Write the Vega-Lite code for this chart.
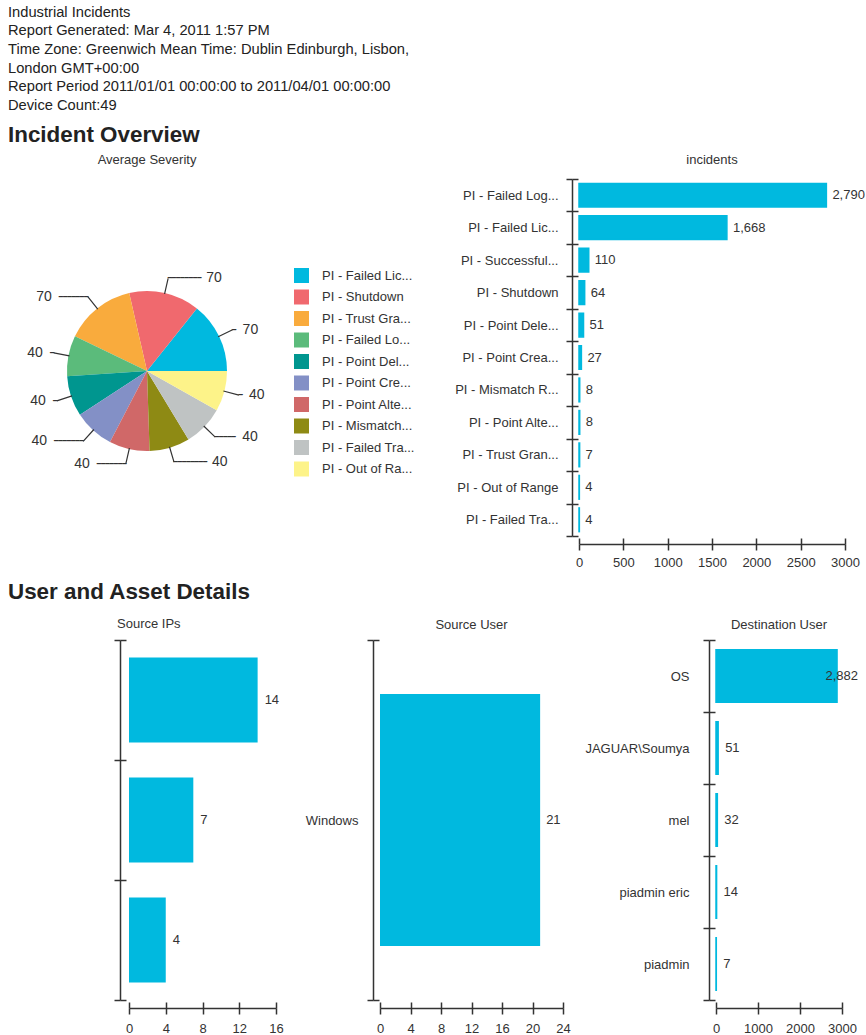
{
  "$schema": "https://vega.github.io/schema/vega-lite/v6.json",
  "padding": {"left": 8, "top": 4, "right": 0, "bottom": 0},
  "background": "white",
  "config": {
    "font": "Liberation Sans",
    "view": {"stroke": null},
    "axis": {"labelFont": "Liberation Sans", "labelFontSize": 13, "labelColor": "#333", "domainColor": "#333", "tickColor": "#333", "domainWidth": 1.5, "tickWidth": 1.5, "grid": false, "labelFlush": false, "labelOverlap": false},
    "title": {"font": "Liberation Sans", "fontSize": 13, "fontWeight": "normal", "color": "#333", "offset": 12},
    "text": {"font": "Liberation Sans", "fontSize": 13, "color": "#333"}
  },
  "title": {
    "text": ["Industrial Incidents", "Report Generated: Mar 4, 2011 1:57 PM", "Time Zone: Greenwich Mean Time:  Dublin Edinburgh, Lisbon,", "London GMT+00:00", "Report Period 2011/01/01 00:00:00 to 2011/04/01 00:00:00", "Device Count:49"],
    "anchor": "start", "frame": "group", "dx": -121,
    "fontSize": 14.7, "fontWeight": "normal", "color": "#222", "lineHeight": 18.6,
    "offset": 11
  },
  "spacing": 11,
  "vconcat": [
    {
      "title": {"text": "Incident Overview", "anchor": "start", "frame": "group", "dx": -121, "fontSize": 22.4, "fontWeight": "bold", "color": "#222", "offset": 8},
      "bounds": "flush",
      "spacing": 414,
      "hconcat": [
        {
          "width": 36, "height": 384,
          "title": {"text": "Average Severity", "offset": 12},
          "data": {"values": [
            {"type": "PI - Failed Lic...", "severity": 70, "idx": 1},
            {"type": "PI - Shutdown", "severity": 70, "idx": 2},
            {"type": "PI - Trust Gra...", "severity": 70, "idx": 3},
            {"type": "PI - Failed Lo...", "severity": 40, "idx": 4},
            {"type": "PI - Point Del...", "severity": 40, "idx": 5},
            {"type": "PI - Point Cre...", "severity": 40, "idx": 6},
            {"type": "PI - Point  Alte...", "severity": 40, "idx": 7},
            {"type": "PI - Mismatch...", "severity": 40, "idx": 8},
            {"type": "PI - Failed Tra...", "severity": 40, "idx": 9},
            {"type": "PI - Out of Ra...", "severity": 40, "idx": 10}
          ]},
          "encoding": {
            "theta": {"field": "severity", "type": "quantitative", "stack": true, "scale": {"range": [1.5708, -4.7124]}},
            "order": {"field": "idx", "type": "quantitative"},
            "detail": {"field": "type", "type": "nominal"}
          },
          "layer": [
            {
              "mark": {"type": "arc", "outerRadius": 80},
              "encoding": {
                "color": {
                  "field": "type", "type": "nominal",
                  "scale": {
                    "domain": ["PI - Failed Lic...", "PI - Shutdown", "PI - Trust Gra...", "PI - Failed Lo...", "PI - Point Del...", "PI - Point Cre...", "PI - Point  Alte...", "PI - Mismatch...", "PI - Failed Tra...", "PI - Out of Ra..."],
                    "range": ["#00b9df", "#f0696e", "#f9ab3d", "#5bbb7b", "#00968f", "#8390c6", "#d06868", "#8e8a14", "#bfc3c3", "#fdf389"]
                  },
                  "legend": {"orient": "none", "legendX": 165, "legendY": 89, "title": null, "symbolType": "square", "symbolSize": 225, "symbolStrokeWidth": 0, "labelFontSize": 13, "labelColor": "#333", "labelFont": "Liberation Sans", "rowPadding": 6.5, "labelOffset": 13, "padding": 0, "labelLimit": 200}
                }
              }
            },
            {
              "mark": {"type": "arc", "innerRadius": 79, "outerRadius": 95, "padAngle": 3, "fillOpacity": 0, "stroke": "#333", "strokeWidth": 1.2}
            },
            {
              "mark": {"type": "text", "radius": 95, "align": "left", "baseline": "middle", "dx": -0.5, "font": "DejaVu Sans", "fontSize": 7, "color": "#333"},
              "encoding": {
                "text": {"condition": [
                  {"test": "datum.type === 'PI - Failed Lic...' || datum.type === 'PI - Out of Ra...'", "value": "━"},
                  {"test": "datum.type === 'PI - Failed Tra...'", "value": "━━━━━"},
                  {"test": "datum.type === 'PI - Shutdown' || datum.type === 'PI - Mismatch...'", "value": "━━━━━━━━"}
                ], "value": ""}
              }
            },
            {
              "mark": {"type": "text", "radius": 95, "align": "right", "baseline": "middle", "dx": 0.5, "font": "DejaVu Sans", "fontSize": 7, "color": "#333"},
              "encoding": {
                "text": {"condition": [
                  {"test": "datum.type === 'PI - Failed Lo...' || datum.type === 'PI - Point Del...'", "value": "━"},
                  {"test": "datum.type === 'PI - Trust Gra...' || datum.type === 'PI - Point Cre...' || datum.type === 'PI - Point  Alte...'", "value": "━━━━━━━"}
                ], "value": ""}
              }
            },
            {
              "mark": {"type": "text", "radius": 95, "align": "left", "baseline": "middle", "dx": 10, "fontSize": 14},
              "encoding": {
                "text": {"condition": {"test": "datum.type === 'PI - Failed Lic...' || datum.type === 'PI - Out of Ra...'", "field": "severity", "type": "quantitative"}, "value": ""}
              }
            },
            {
              "mark": {"type": "text", "radius": 95, "align": "left", "baseline": "middle", "dx": 27, "fontSize": 14},
              "encoding": {
                "text": {"condition": {"test": "datum.type === 'PI - Failed Tra...'", "field": "severity", "type": "quantitative"}, "value": ""}
              }
            },
            {
              "mark": {"type": "text", "radius": 95, "align": "left", "baseline": "middle", "dx": 38, "fontSize": 14},
              "encoding": {
                "text": {"condition": {"test": "datum.type === 'PI - Shutdown' || datum.type === 'PI - Mismatch...'", "field": "severity", "type": "quantitative"}, "value": ""}
              }
            },
            {
              "mark": {"type": "text", "radius": 95, "align": "right", "baseline": "middle", "dx": -11, "fontSize": 14},
              "encoding": {
                "text": {"condition": {"test": "datum.type === 'PI - Failed Lo...' || datum.type === 'PI - Point Del...'", "field": "severity", "type": "quantitative"}, "value": ""}
              }
            },
            {
              "mark": {"type": "text", "radius": 95, "align": "right", "baseline": "middle", "dx": -36, "fontSize": 14},
              "encoding": {
                "text": {"condition": {"test": "datum.type === 'PI - Trust Gra...' || datum.type === 'PI - Point Cre...' || datum.type === 'PI - Point  Alte...'", "field": "severity", "type": "quantitative"}, "value": ""}
              }
            }
          ]
        },
        {
          "width": 266, "height": 357,
          "title": {"text": "incidents", "offset": 6},
          "data": {"values": [
            {"type": "PI - Failed Log...", "count": 2790},
            {"type": "PI - Failed Lic...", "count": 1668},
            {"type": "PI - Successful...", "count": 110},
            {"type": "PI - Shutdown", "count": 64},
            {"type": "PI - Point Dele...", "count": 51},
            {"type": "PI - Point Crea...", "count": 27},
            {"type": "PI - Mismatch R...", "count": 8},
            {"type": "PI - Point Alte...", "count": 8},
            {"type": "PI - Trust Gran...", "count": 7},
            {"type": "PI - Out of Range", "count": 4},
            {"type": "PI - Failed Tra...", "count": 4}
          ]},
          "layer": [
            {
              "mark": {"type": "bar", "color": "#00b9df", "stroke": "#00b9df", "strokeWidth": 1.5, "height": {"band": 0.73}},
              "encoding": {
                "y": {"field": "type", "type": "nominal", "sort": null, "scale": {"paddingInner": 0, "paddingOuter": 0}, "axis": {"title": null, "orient": "left", "offset": 7, "tickSize": 6, "labelPadding": 8, "tickBand": "extent", "labelLimit": 200}},
                "x": {"field": "count", "type": "quantitative", "scale": {"domain": [0, 3000], "nice": false}, "axis": {"title": null, "orient": "bottom", "offset": 8, "tickSize": 6, "labelPadding": 6, "values": [0, 500, 1000, 1500, 2000, 2500, 3000], "format": "d"}}
              }
            },
            {
              "mark": {"type": "text", "align": "left", "baseline": "middle", "dx": 6},
              "encoding": {
                "y": {"field": "type", "type": "nominal", "sort": null, "axis": {"title": null, "orient": "left", "offset": 1, "tickSize": 6, "labels": false, "domain": false, "tickBand": "extent"}},
                "x": {"field": "count", "type": "quantitative", "axis": {"title": null, "orient": "bottom", "offset": 2, "tickSize": 6, "labels": false, "domain": false, "values": [0, 500, 1000, 1500, 2000, 2500, 3000]}},
                "text": {"field": "count", "type": "quantitative", "format": ","}
              }
            }
          ],
          "resolve": {"axis": {"x": "independent", "y": "independent"}}
        }
      ]
    },
    {
      "title": {"text": "User and Asset Details", "anchor": "start", "frame": "group", "dx": -121, "fontSize": 22.4, "fontWeight": "bold", "color": "#222", "offset": 15},
      "bounds": "flush",
      "spacing": 104,
      "hconcat": [
        {
          "width": 147, "height": 360,
          "title": {"text": "Source IPs", "anchor": "start", "frame": "group", "dx": -12, "offset": 8},
          "data": {"values": [
            {"ip": "IP 1", "count": 14},
            {"ip": "IP 2", "count": 7},
            {"ip": "IP 3", "count": 4}
          ]},
          "layer": [
            {
              "mark": {"type": "bar", "color": "#00b9df", "height": {"band": 0.71}},
              "encoding": {
                "y": {"field": "ip", "type": "nominal", "sort": null, "scale": {"paddingInner": 0, "paddingOuter": 0}, "axis": {"title": null, "orient": "left", "offset": 9, "tickSize": 6, "labels": false, "tickBand": "extent"}},
                "x": {"field": "count", "type": "quantitative", "scale": {"domain": [0, 16], "nice": false}, "axis": {"title": null, "orient": "bottom", "offset": 8, "tickSize": 6, "labelPadding": 8, "values": [0, 4, 8, 12, 16]}}
              }
            },
            {
              "mark": {"type": "text", "align": "left", "baseline": "middle", "dx": 7},
              "encoding": {
                "y": {"field": "ip", "type": "nominal", "sort": null, "axis": {"title": null, "orient": "left", "offset": 3, "tickSize": 6, "labels": false, "domain": false, "tickBand": "extent"}},
                "x": {"field": "count", "type": "quantitative", "axis": {"title": null, "orient": "bottom", "offset": 2, "tickSize": 6, "labels": false, "domain": false, "values": [0, 4, 8, 12, 16]}},
                "text": {"field": "count", "type": "quantitative"}
              }
            }
          ],
          "resolve": {"axis": {"x": "independent", "y": "independent"}}
        },
        {
          "bounds": "flush",
          "spacing": 153,
          "hconcat": [
            {
              "width": 183, "height": 360,
              "title": {"text": "Source  User", "offset": 2},
              "data": {"values": [{"user": "Windows", "count": 21}]},
              "layer": [
                {
                  "mark": {"type": "bar", "color": "#00b9df", "height": {"band": 0.7}},
                  "encoding": {
                    "y": {"field": "user", "type": "nominal", "sort": null, "scale": {"paddingInner": 0, "paddingOuter": 0}, "axis": {"title": null, "orient": "left", "offset": 7, "tickSize": 6, "labelPadding": 9, "tickBand": "extent"}},
                    "x": {"field": "count", "type": "quantitative", "scale": {"domain": [0, 24], "nice": false}, "axis": {"title": null, "orient": "bottom", "offset": 8, "tickSize": 6, "labelPadding": 8, "values": [0, 4, 8, 12, 16, 20, 24]}}
                  }
                },
                {
                  "mark": {"type": "text", "align": "left", "baseline": "middle", "dx": 6},
                  "encoding": {
                    "y": {"field": "user", "type": "nominal", "sort": null, "axis": {"title": null, "orient": "left", "offset": 1, "tickSize": 6, "labels": false, "domain": false, "tickBand": "extent"}},
                    "x": {"field": "count", "type": "quantitative", "axis": {"title": null, "orient": "bottom", "offset": 2, "tickSize": 6, "labels": false, "domain": false, "values": [0, 4, 8, 12, 16, 20, 24]}},
                    "text": {"field": "count", "type": "quantitative"}
                  }
                }
              ],
              "resolve": {"axis": {"x": "independent", "y": "independent"}}
            },
            {
              "width": 126, "height": 360,
              "title": {"text": "Destination User", "offset": 2},
              "data": {"values": [
                {"user": "OS", "count": 2882},
                {"user": "JAGUAR\\Soumya", "count": 51},
                {"user": "mel", "count": 32},
                {"user": "piadmin eric", "count": 14},
                {"user": "piadmin", "count": 7}
              ]},
              "layer": [
                {
                  "mark": {"type": "bar", "color": "#00b9df", "stroke": "#00b9df", "strokeWidth": 1.5, "height": {"band": 0.73}},
                  "encoding": {
                    "y": {"field": "user", "type": "nominal", "sort": null, "scale": {"paddingInner": 0, "paddingOuter": 0}, "axis": {"title": null, "orient": "left", "offset": 7, "tickSize": 6, "labelPadding": 14, "tickBand": "extent", "labelLimit": 200}},
                    "x": {"field": "count", "type": "quantitative", "scale": {"domain": [0, 3000], "nice": false}, "axis": {"title": null, "orient": "bottom", "offset": 8, "tickSize": 6, "labelPadding": 8, "values": [0, 1000, 2000, 3000], "format": "d"}}
                  }
                },
                {
                  "transform": [{"filter": "datum.count < 1000"}],
                  "mark": {"type": "text", "align": "left", "baseline": "middle", "dx": 7},
                  "encoding": {
                    "y": {"field": "user", "type": "nominal", "sort": null, "axis": {"title": null, "orient": "left", "offset": 1, "tickSize": 6, "labels": false, "domain": false, "tickBand": "extent"}},
                    "x": {"field": "count", "type": "quantitative", "axis": {"title": null, "orient": "bottom", "offset": 2, "tickSize": 6, "labels": false, "domain": false, "values": [0, 1000, 2000, 3000]}},
                    "text": {"field": "count", "type": "quantitative", "format": ","}
                  }
                },
                {
                  "transform": [{"filter": "datum.count >= 1000"}],
                  "mark": {"type": "text", "align": "right", "baseline": "middle", "dx": 21},
                  "encoding": {
                    "y": {"field": "user", "type": "nominal", "sort": null, "axis": null},
                    "x": {"field": "count", "type": "quantitative", "axis": null},
                    "text": {"field": "count", "type": "quantitative", "format": ","}
                  }
                }
              ],
              "resolve": {"axis": {"x": "independent", "y": "independent"}}
            }
          ]
        }
      ]
    }
  ]
}
